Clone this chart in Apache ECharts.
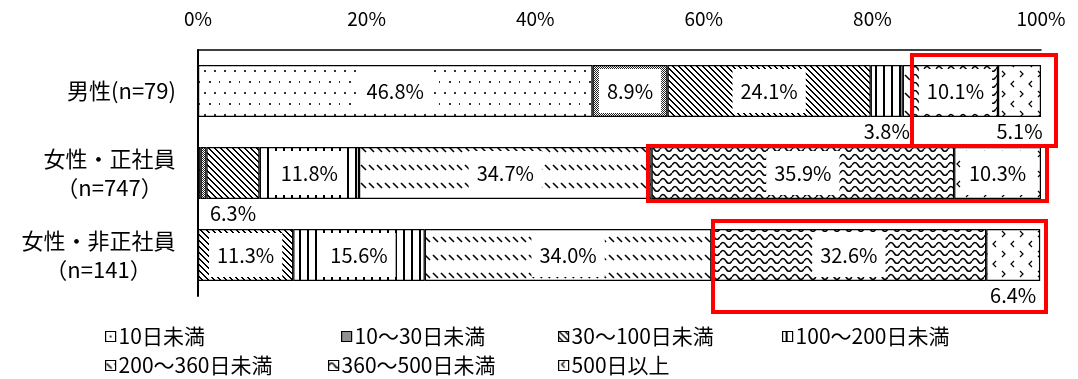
<!DOCTYPE html>
<html>
<head>
<meta charset="utf-8">
<script src="https://cdn.jsdelivr.net/npm/echarts@6/dist/echarts.min.js"></script>
<style>html,body{margin:0;padding:0;background:#fff;}#c{width:1078px;height:379px;}</style>
</head>
<body>
<div id="c"></div>
<script>
// ---- data ----
const categories = ['男性(n=79)', '女性・正社員\n（n=747）', '女性・非正社員\n（n=141）'];
const seriesNames = ['10日未満', '10～30日未満', '30～100日未満', '100～200日未満', '200～360日未満', '360～500日未満', '500日以上'];
const lt10 = [46.8, 0.3, 0.0];
const d10to30 = [8.9, 0.7, 0.0];
const d30to100 = [24.1, 6.3, 11.3];
const d100to200 = [3.8, 11.8, 15.6];
const d200to360 = [1.2, 34.7, 34.0];
const d360to500 = [10.1, 35.9, 32.6];
const ge500 = [5.1, 10.3, 6.4];
const xTickValues = [0, 20, 40, 60, 80, 100];

const seriesValues = [lt10, d10to30, d30to100, d100to200, d200to360, d360to500, ge500];

// ---- patterns ----
const FONT = "'Noto Sans CJK JP', 'Noto Sans', sans-serif";
function pat(w, h, draw) {
  const c = document.createElement('canvas');
  c.width = w; c.height = h;
  const x = c.getContext('2d');
  x.fillStyle = '#fff'; x.fillRect(0, 0, w, h);
  x.fillStyle = '#000'; x.strokeStyle = '#000';
  draw(x, w, h);
  return { image: c, repeat: 'repeat' };
}
const patterns = [
  pat(20, 22, (x) => { x.fillStyle = '#333'; [[4,4],[14,4],[9,15],[19,15]].forEach(p => x.fillRect(p[0], p[1], 2, 2)); }),
  pat(2, 2, (x) => { x.fillStyle = '#222'; x.fillRect(0, 0, 1, 1); x.fillRect(1, 1, 1, 1); }),
  pat(6, 6, (x, w, h) => { for (let yy = 0; yy < h; yy++) for (let xx = 0; xx < w; xx++) if (((xx - yy) % 6 + 6) % 6 < 2) x.fillRect(xx, yy, 1, 1); }),
  pat(8, 4, (x) => { x.fillRect(3, 0, 2, 4); }),
  pat(8, 18, (x) => { x.lineWidth = 1.6; x.beginPath(); x.moveTo(1, 3); x.lineTo(6, 8); x.stroke(); }),
  pat(12, 8, (x) => { x.lineWidth = 1.5; x.beginPath(); x.moveTo(0, 5); x.quadraticCurveTo(3, 0, 6, 5); x.quadraticCurveTo(9, 10, 12, 5); x.stroke(); }),
  pat(18, 20, (x) => { x.lineWidth = 1.2; x.beginPath(); x.moveTo(6, 1); x.lineTo(3, 4); x.lineTo(6, 7); x.moveTo(12, 11); x.lineTo(15, 14); x.lineTo(12, 17); x.stroke(); })
];

// ---- label helpers ----
function labelFor(v) {
  if (v >= 8) {
    return { show: true, position: 'inside', backgroundColor: '#fff', padding: [12, 8], color: '#000', fontSize: 20, fontFamily: FONT };
  } else if (v >= 3) {
    return { show: true, position: 'bottom', distance: 4, color: '#000', fontSize: 20, fontFamily: FONT };
  }
  return { show: false };
}

// measure line widths for centred category labels
const mctx = document.createElement('canvas').getContext('2d');
const CAT_FS = 22;
mctx.font = CAT_FS + 'px ' + FONT;
const rich = {};
categories.forEach((c, i) => {
  const lines = c.split('\n');
  const w = Math.max.apply(null, lines.map(l => mctx.measureText(l).width));
  rich['c' + i] = { width: Math.ceil(w), align: 'center', fontSize: CAT_FS, fontFamily: FONT, color: '#000', lineHeight: 29 };
});

const series = seriesNames.map((name, si) => ({
  name: name,
  type: 'bar',
  stack: 'total',
  barWidth: 52,
  itemStyle: { color: patterns[si], borderColor: '#000', borderWidth: 1.2 },
  emphasis: { disabled: true },
  data: seriesValues[si].map(v => ({ value: v, label: labelFor(v) })),
  label: { formatter: p => p.value.toFixed(1) + '%' }
}));

const legendPos = [[100, 321], [336, 321], [553, 321], [777, 321], [100, 350], [323, 350], [553, 350]];
const legends = seriesNames.map((n, i) => ({
  data: [n],
  left: legendPos[i][0], top: legendPos[i][1],
  icon: 'rect', itemWidth: 10, itemHeight: 10, itemGap: 0,
  itemStyle: { borderColor: '#000', borderWidth: 1.2 },
  textStyle: { fontSize: 21, fontFamily: FONT, color: '#000', padding: [0, 0, 0, -2] },
  selectedMode: false
}));

const chart = echarts.init(document.getElementById('c'), null, { renderer: 'canvas' });
chart.setOption({
  animation: false,
  backgroundColor: '#fff',
  grid: { left: 198, right: 37, top: 50, bottom: 83 },
  xAxis: {
    type: 'value', position: 'top', min: 0, max: 100, interval: 20,
    axisLine: { show: true, lineStyle: { color: '#000', width: 1.5 } },
    axisTick: { show: false },
    splitLine: { show: false },
    axisLabel: { margin: 22, fontSize: 19, fontFamily: FONT, color: '#000',
      formatter: v => (xTickValues.indexOf(v) >= 0 ? v + '%' : '') }
  },
  yAxis: {
    type: 'category', data: categories, inverse: true,
    axisLine: { show: true, lineStyle: { color: '#000', width: 2 } },
    axisTick: { show: false },
    axisLabel: {
      margin: 22,
      formatter: (v, i) => v.split('\n').map(l => '{c' + i + '|' + l + '}').join('\n'),
      rich: rich
    }
  },
  legend: legends,
  series: series,
  graphic: [
    { type: 'rect', z: 100, shape: { x: 912, y: 55, width: 144, height: 91 }, style: { fill: 'none', stroke: '#ff0000', lineWidth: 4 } },
    { type: 'rect', z: 100, shape: { x: 648, y: 146, width: 399, height: 55 }, style: { fill: 'none', stroke: '#ff0000', lineWidth: 4 } },
    { type: 'rect', z: 100, shape: { x: 713, y: 221, width: 333, height: 91 }, style: { fill: 'none', stroke: '#ff0000', lineWidth: 4 } }
  ]
});
</script>
</body>
</html>
